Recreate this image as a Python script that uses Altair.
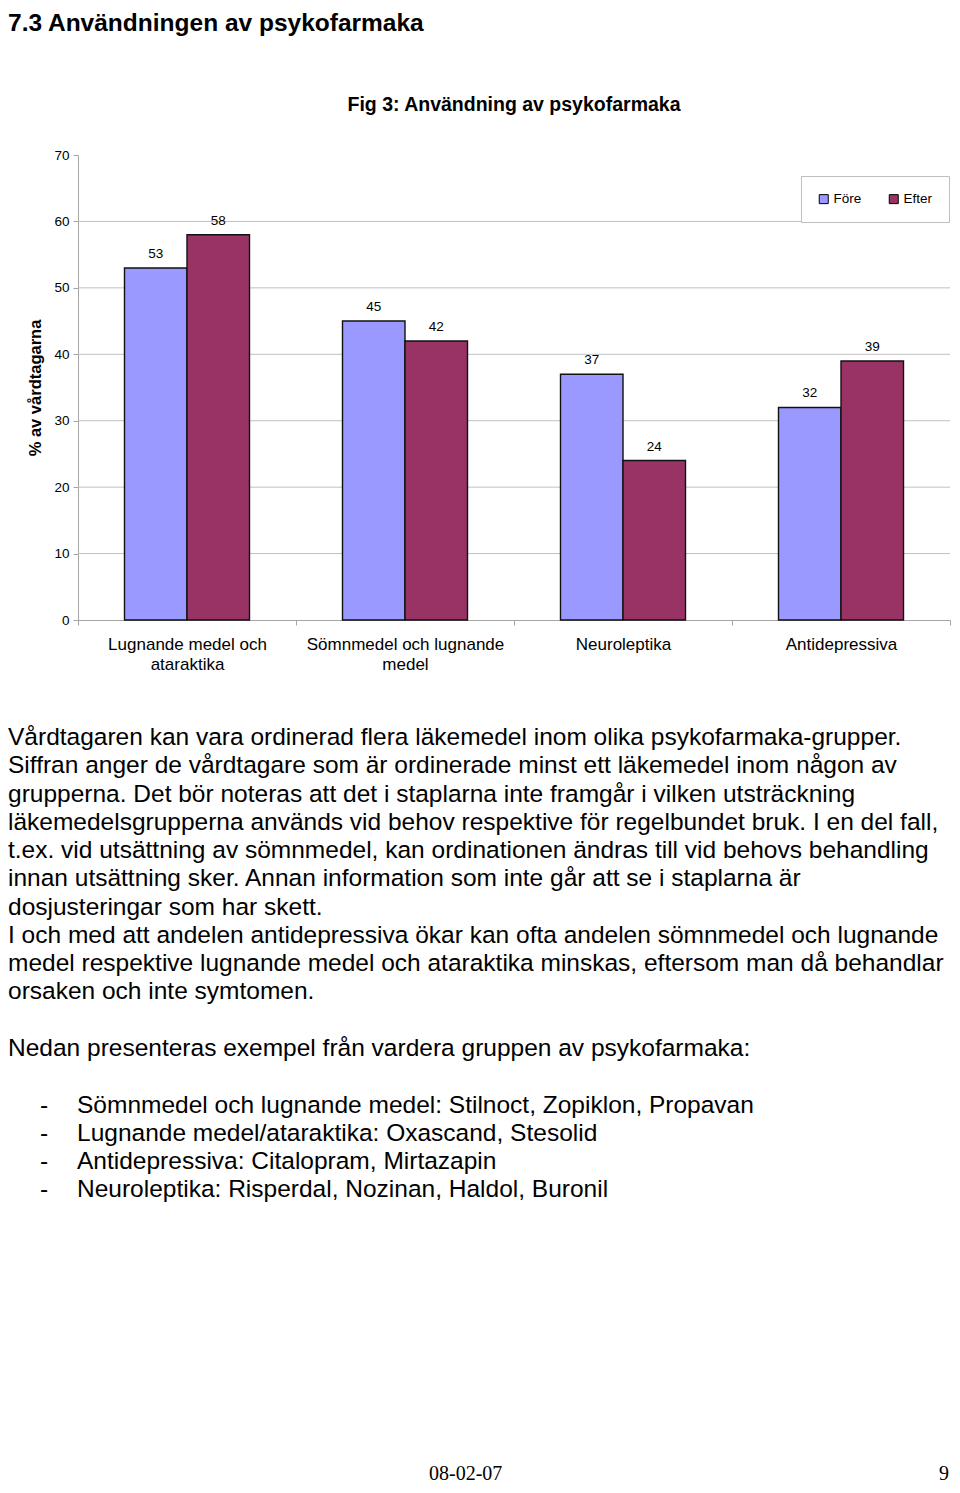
import altair as alt
import pandas as pd

# ---------------- data ----------------
categories = ["Lugnande medel och|ataraktika", "Sömnmedel och lugnande|medel", "Neuroleptika", "Antidepressiva"]
series_names = ["Före", "Efter"]
fore_values = [53, 45, 37, 32]
efter_values = [58, 42, 24, 39]
y_tick_values = [0, 10, 20, 30, 40, 50, 60, 70]
grid_values = [10, 20, 30, 40, 50, 60]
bar_colors = ["#9999FF", "#993366"]

heading = "7.3 Användningen av psykofarmaka"
figure_title = "Fig 3: Användning av psykofarmaka"
y_title = "% av vårdtagarna"
paragraph_lines = [
    "Vårdtagaren kan vara ordinerad flera läkemedel inom olika psykofarmaka-grupper.",
    "Siffran anger de vårdtagare som är ordinerade minst ett läkemedel inom någon av",
    "grupperna. Det bör noteras att det i staplarna inte framgår i vilken utsträckning",
    "läkemedelsgrupperna används vid behov respektive för regelbundet bruk. I en del fall,",
    "t.ex. vid utsättning av sömnmedel, kan ordinationen ändras till vid behovs behandling",
    "innan utsättning sker. Annan information som inte går att se i staplarna är",
    "dosjusteringar som har skett.",
    "I och med att andelen antidepressiva ökar kan ofta andelen sömnmedel och lugnande",
    "medel respektive lugnande medel och ataraktika minskas, eftersom man då behandlar",
    "orsaken och inte symtomen.",
]
intro_line = "Nedan presenteras exempel från vardera gruppen av psykofarmaka:"
bullet_lines = [
    "Sömnmedel och lugnande medel: Stilnoct, Zopiklon, Propavan",
    "Lugnande medel/ataraktika: Oxascand, Stesolid",
    "Antidepressiva: Citalopram, Mirtazapin",
    "Neuroleptika: Risperdal, Nozinan, Haldol, Buronil",
]
footer_date = "08-02-07"
page_number = "9"

rows = []
for c, f, e in zip(categories, fore_values, efter_values):
    rows.append({"category": c, "series": series_names[0], "value": f})
    rows.append({"category": c, "series": series_names[1], "value": e})
bars_df = pd.DataFrame(rows)
grid_df = pd.DataFrame({"value": grid_values})

FONT = "Liberation Sans"
BODY_SIZE = 24.5
LINE_H = 28.25

y_enc = alt.Y(
    "value:Q",
    scale=alt.Scale(domain=[0, 70], range=[612, 147], nice=False, zero=True),
    axis=alt.Axis(
        values=y_tick_values, orient="left", offset=-70, grid=False,
        domainColor="#a6a6a6", tickColor="#a6a6a6", tickSize=5,
        labelFont=FONT, labelFontSize=13.5, labelColor="black", labelPadding=4,
        title=y_title, titleFont=FONT, titleFontSize=16.5, titleFontWeight="bold",
        titleColor="black", titlePadding=10,
    ),
)
x_enc = alt.X(
    "category:N", sort=categories,
    scale=alt.Scale(range=[70, 942], paddingInner=0, paddingOuter=0),
    axis=alt.Axis(
        orient="bottom", offset=-865, title=None, labelAngle=0,
        labelExpr="split(datum.label, '|')", tickBand="extent",
        domainColor="#a6a6a6", tickColor="#a6a6a6", tickSize=5,
        labelFont=FONT, labelFontSize=17, labelColor="black",
        labelLineHeight=20, labelPadding=11, labelLimit=0,
    ),
)
xo_enc = alt.XOffset("series:N", sort=series_names,
                     scale=alt.Scale(paddingInner=0, paddingOuter=0.744))

grid = alt.Chart(grid_df).mark_rule(color="#c0c0c0", strokeWidth=1).encode(
    y=y_enc, x=alt.value(70), x2=alt.value(942)
)

bars = alt.Chart(bars_df).mark_bar(stroke="#111111", strokeWidth=1.4).encode(
    x=x_enc, xOffset=xo_enc, y=y_enc,
    color=alt.Color(
        "series:N", sort=series_names,
        scale=alt.Scale(domain=series_names, range=bar_colors),
        legend=alt.Legend(
            title=None, orient="none", legendX=793, legendY=168,
            direction="horizontal", strokeColor="#bfbfbf", fillColor="white",
            padding=16, symbolType="square", symbolSize=81,
            symbolStrokeColor="black", symbolStrokeWidth=1, symbolOpacity=1,
            labelFont=FONT, labelFontSize=13.5, labelColor="black",
            labelOffset=3, columnPadding=25,
        ),
    ),
)

labels = alt.Chart(bars_df).mark_text(
    dy=-14, baseline="middle", font=FONT, fontSize=13.5, color="black"
).encode(x=x_enc, xOffset=xo_enc, y=y_enc, text=alt.Text("value:Q"))


def text_layer(txt, **kw):
    df = pd.DataFrame({"t": [txt]})
    return alt.Chart(df).mark_text(color="black", **kw).encode(text=alt.Text("t:N"))


para_y = 737
heading_t = text_layer(heading, x=0, y=23, align="left", baseline="alphabetic",
                       font=FONT, fontSize=24.5, fontWeight="bold")
fig_t = text_layer(figure_title, x=506, y=103, align="center", baseline="alphabetic",
                   font=FONT, fontSize=19.5, fontWeight="bold")
para_t = text_layer("\n".join(paragraph_lines), x=0, y=para_y, align="left",
                    baseline="alphabetic", font=FONT, fontSize=BODY_SIZE,
                    lineBreak="\n", lineHeight=LINE_H)
intro_t = text_layer(intro_line, x=0, y=para_y + 11 * LINE_H, align="left",
                     baseline="alphabetic", font=FONT, fontSize=BODY_SIZE)
dash_t = text_layer("\n".join(["-"] * len(bullet_lines)), x=32, y=1105, align="left",
                    baseline="alphabetic", font=FONT, fontSize=BODY_SIZE,
                    lineBreak="\n", lineHeight=28)
bullet_t = text_layer("\n".join(bullet_lines), x=69, y=1105, align="left",
                      baseline="alphabetic", font=FONT, fontSize=BODY_SIZE,
                      lineBreak="\n", lineHeight=28)
date_t = text_layer(footer_date, x=421, y=1472, align="left", baseline="alphabetic",
                    font="Liberation Serif", fontSize=20)
page_t = text_layer(page_number, x=941, y=1472, align="right", baseline="alphabetic",
                    font="Liberation Serif", fontSize=20)

chart = alt.layer(
    grid, bars, labels, heading_t, fig_t, para_t, intro_t, dash_t, bullet_t, date_t, page_t
).properties(
    width=944, height=1477, padding=0, background="white",
    autosize=alt.AutoSizeParams(type="none"),
).configure_view(stroke=None)

chart.save("out.html", embed_options={"renderer": "svg", "actions": False})
